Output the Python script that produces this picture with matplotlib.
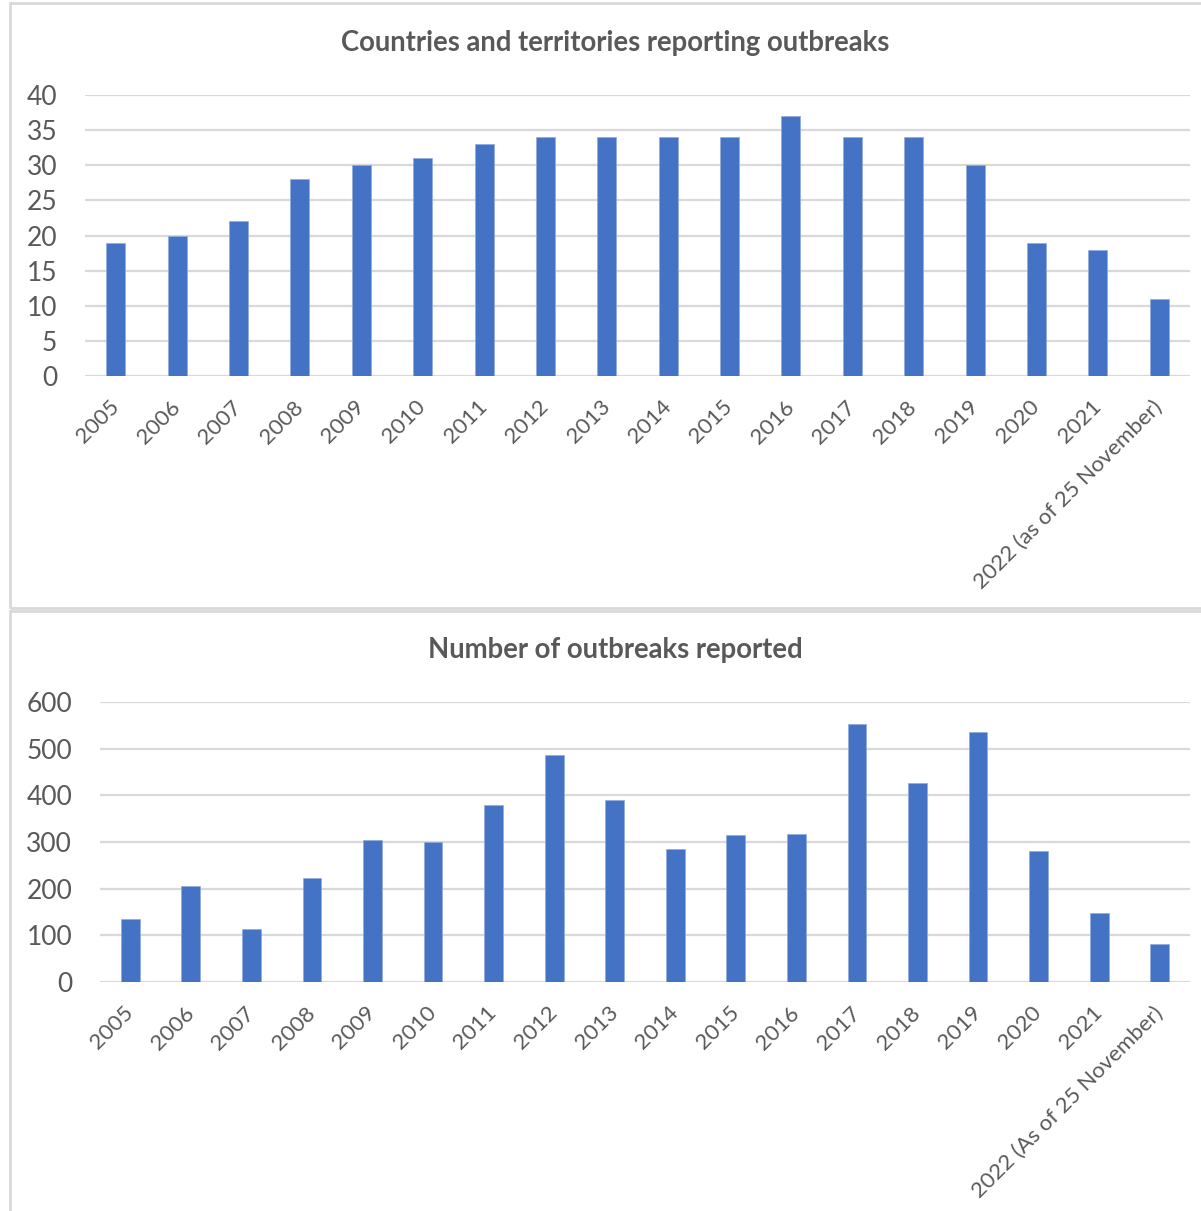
import matplotlib.pyplot as plt
from matplotlib.patches import Rectangle

years = ['2005', '2006', '2007', '2008', '2009', '2010', '2011', '2012', '2013',
         '2014', '2015', '2016', '2017', '2018', '2019', '2020', '2021']
countries = [19, 20, 22, 28, 30, 31, 33, 34, 34, 34, 34, 37, 34, 34, 30, 19, 18, 11]
outbreaks = [135, 205, 113, 223, 304, 299, 380, 486, 391, 284, 314, 317, 553, 426, 536, 280, 147, 82]
labels_top = years + ['2022 (as of 25 November)']
labels_bottom = years + ['2022 (As of 25 November)']

BAR = '#4472C4'
GRID = '#D9D9D9'
TEXT = '#595959'

plt.rcParams['font.family'] = ['Lato', 'DejaVu Sans']

W, H = 1201, 1211
fig = plt.figure(figsize=(W / 100, H / 100), dpi=100)


def fx(px):
    return px / W


def fy(py):
    return 1 - py / H


# panel borders
fig.patches.append(Rectangle((fx(10), fy(608)), fx(1200), (608 - 3) / H,
                             transform=fig.transFigure, fill=False,
                             edgecolor=GRID, linewidth=2))
fig.patches.append(Rectangle((fx(10), fy(1215)), fx(1200), (1215 - 611) / H,
                             transform=fig.transFigure, fill=False,
                             edgecolor=GRID, linewidth=2))


def draw(ax, values, labels, ticks, ymax, title, title_y):
    x = range(len(values))
    ax.bar(x, values, width=0.31, color=BAR, edgecolor='#8FAADC', linewidth=0.5, zorder=3)
    ax.set_xlim(-0.5, len(values) - 0.5)
    ax.set_ylim(0, ymax)
    ax.set_yticks(ticks)
    ax.yaxis.grid(True, color=GRID, linewidth=1.6, zorder=0)
    for s in ax.spines.values():
        s.set_visible(False)
    ax.tick_params(axis='both', length=0, colors=TEXT)
    ax.tick_params(axis='y', pad=20, labelsize=19)
    ax.set_xticks(list(x))
    ax.set_xticklabels(labels, rotation=45, ha='right', va='center',
                       rotation_mode='anchor')
    ax.tick_params(axis='x', pad=20, labelsize=16)
    fig.text(fx(615), fy(title_y), title, ha='center', va='center',
             fontsize=19.8, fontweight='bold', color=TEXT)


ax1 = fig.add_axes([fx(85), fy(376), fx(1190 - 85), (376 - 95) / H])
draw(ax1, countries, labels_top, range(0, 41, 5), 40,
     'Countries and territories reporting outbreaks', 43)

ax2 = fig.add_axes([fx(100), fy(982), fx(1190 - 100), (982 - 702) / H])
draw(ax2, outbreaks, labels_bottom, range(0, 601, 100), 600,
     'Number of outbreaks reported', 650)

fig.savefig('out.png', dpi=100)
